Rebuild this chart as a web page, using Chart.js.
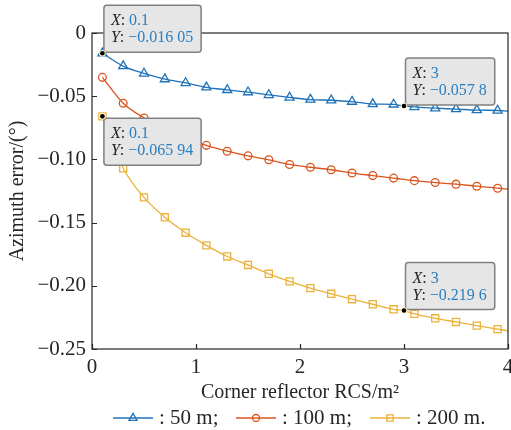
<!DOCTYPE html>
<html>
<head>
<meta charset="utf-8">
<script src="https://cdn.jsdelivr.net/npm/chart.js@4.4.1/dist/chart.umd.min.js"></script>
<style>
  html, body { margin: 0; padding: 0; background: #fff; }
</style>
</head>
<body>
<canvas id="rcsChart" width="511" height="430"></canvas>
<script>
// data
const rcs = [0.1, 0.3, 0.5, 0.7, 0.9, 1.1, 1.3, 1.5, 1.7, 1.9, 2.1, 2.3, 2.5, 2.7, 2.9, 3.0, 3.1, 3.3, 3.5, 3.7, 3.9, 4.0];
const err50 = [-0.01605, -0.0262, -0.0320, -0.0365, -0.0395, -0.0430, -0.0450, -0.0468, -0.0490, -0.0510, -0.0527,
               -0.0532, -0.0543, -0.0562, -0.0565, -0.0578, -0.0585, -0.0595, -0.0602, -0.0610, -0.0613, -0.0618];
const err100 = [-0.0351, -0.0556, -0.0672, -0.0760, -0.0830, -0.0889, -0.0935, -0.0972, -0.1003, -0.1040, -0.1062,
                -0.1082, -0.1108, -0.1128, -0.1148, -0.1158, -0.1168, -0.1183, -0.1196, -0.1212, -0.1228, -0.1235];
const err200 = [-0.06594, -0.1070, -0.1300, -0.1458, -0.1580, -0.1680, -0.1768, -0.1835, -0.1905, -0.1965, -0.2018,
                -0.2063, -0.2106, -0.2146, -0.2186, -0.2196, -0.2222, -0.2257, -0.2286, -0.2315, -0.2343, -0.2356];
const seriesNames = [': 50 m;', ': 100 m;', ': 200 m.'];

const xTickValues = [0, 1, 2, 3, 4];
const xTickLabels = ['0', '1', '2', '3', '4'];
const yTickValues = [0, -0.05, -0.10, -0.15, -0.20, -0.25];
const yTickLabels = ['0', '\u22120.05', '\u22120.10', '\u22120.15', '\u22120.20', '\u22120.25'];

// data tips
const tipX = [0.1, 3, 0.1, 3];
const tipY = [-0.01605, -0.0578, -0.06594, -0.2196];
const tipXText = ['0.1', '3', '0.1', '3'];
const tipYText = ['\u22120.016 05', '\u22120.057 8', '\u22120.065 94', '\u22120.219 6'];
const tipBelow = [false, false, true, false];

const colors = ['#1f72b8', '#d9541e', '#ebb13a'];
const markers = ['triangle', 'circle', 'rect'];
const markerRadius = [5.2, 3.9, 5];
const serif = "'Liberation Serif', 'Times New Roman', serif";

function makeSet(i, values) {
    return {
        label: seriesNames[i],
        data: rcs.map((x, k) => ({ x: x, y: values[k] })),
        borderColor: colors[i],
        backgroundColor: 'rgba(0,0,0,0)',
        borderWidth: 1.3,
        pointStyle: markers[i],
        pointRadius: rcs.map(x => (x === 3.0 || x === 4.0) ? 0 : markerRadius[i]),
        pointBorderColor: colors[i],
        pointBackgroundColor: 'rgba(255,255,255,0)',
        pointBorderWidth: 1.3,
        cubicInterpolationMode: 'monotone'
    };
}

// box, inward ticks, data tips and legend
const decorations = {
    id: 'decorations',
    afterDatasetsDraw(chart) {
        const c = chart.ctx;
        const a = chart.chartArea;
        const xs = chart.scales.x, ys = chart.scales.y;
        c.save();
        c.strokeStyle = '#262626';
        c.lineWidth = 1.2;
        c.strokeRect(a.left, a.top, a.right - a.left, a.bottom - a.top);
        c.beginPath();
        yTickValues.forEach(v => {
            const py = Math.round(ys.getPixelForValue(v)) + 0.5;
            c.moveTo(a.left, py); c.lineTo(a.left + 5, py);
        });
        xTickValues.forEach(v => {
            const px = Math.round(xs.getPixelForValue(v)) + 0.5;
            c.moveTo(px, a.bottom); c.lineTo(px, a.bottom - 5);
        });
        c.stroke();

        // data tips
        tipX.forEach((tx, i) => {
            const px = xs.getPixelForValue(tx);
            const py = ys.getPixelForValue(tipY[i]);
            c.font = 'italic 16px ' + serif;
            const lw = c.measureText('X').width;
            c.font = '16px ' + serif;
            const w1 = lw + c.measureText(': ' + tipXText[i]).width;
            const w2 = lw + c.measureText(': ' + tipYText[i]).width;
            const bw = Math.max(w1, w2) + 14;
            const bh = 47;
            const bx = px + 1.5;
            const by = tipBelow[i] ? py + 2 : py - bh - 1;
            c.beginPath();
            c.roundRect(bx, by, bw, bh, 3);
            c.fillStyle = '#e6e6e6';
            c.fill();
            c.strokeStyle = '#808080';
            c.lineWidth = 1.5;
            c.stroke();
            const lines = [['X', tipXText[i]], ['Y', tipYText[i]]];
            lines.forEach((ln, j) => {
                const ty = by + 20 + j * 17;
                let tx0 = bx + 7;
                c.textBaseline = 'alphabetic';
                c.textAlign = 'left';
                c.font = 'italic 16px ' + serif;
                c.fillStyle = '#262626';
                c.fillText(ln[0], tx0, ty);
                tx0 += c.measureText(ln[0]).width;
                c.font = '16px ' + serif;
                c.fillText(': ', tx0, ty);
                tx0 += c.measureText(': ').width;
                c.fillStyle = '#2a7fc2';
                c.fillText(ln[1], tx0, ty);
            });
            // marker dot
            c.beginPath();
            c.arc(px, py, 3.3, 0, Math.PI * 2);
            c.fillStyle = '#fff6c8';
            c.fill();
            c.beginPath();
            c.arc(px, py, 2.3, 0, Math.PI * 2);
            c.fillStyle = '#000';
            c.fill();
        });

        // legend
        const ly = 418;
        const starts = [113, 236, 370];
        chart.data.datasets.forEach((ds, i) => {
            const x0 = starts[i];
            c.strokeStyle = colors[i];
            c.fillStyle = 'rgba(255,255,255,0)';
            c.lineWidth = 1.3;
            c.beginPath();
            c.moveTo(x0, ly); c.lineTo(x0 + 40, ly);
            c.stroke();
            Chart.helpers.drawPoint(c, {
                pointStyle: markers[i], radius: markerRadius[i] * 0.9, borderWidth: 1.3
            }, x0 + 20, ly);
            c.font = '21px ' + serif;
            c.fillStyle = '#262626';
            c.textAlign = 'left';
            c.textBaseline = 'middle';
            c.fillText(ds.label, x0 + 46, ly);
        });
        c.restore();
    }
};

const ctx = document.getElementById('rcsChart').getContext('2d');

const config = {
    type: 'line',
    data: {
        datasets: [makeSet(0, err50), makeSet(1, err100), makeSet(2, err200)]
    },
    options: {
        responsive: false,
        animation: false,
        layout: { autoPadding: false, padding: { top: 33, right: 3, left: 0, bottom: 0 } },
        plugins: {
            legend: { display: false },
            tooltip: { enabled: false }
        },
        scales: {
            x: {
                type: 'linear',
                min: 0,
                max: 4,
                afterFit: s => { s.height = 81; s.paddingLeft = 0; s.paddingRight = 0; },
                afterBuildTicks: s => { s.ticks = xTickValues.map(v => ({ value: v })); },
                grid: { drawOnChartArea: false, drawTicks: false },
                border: { display: false },
                ticks: {
                    padding: 6,
                    color: '#262626',
                    font: { family: serif, size: 21 },
                    callback: v => xTickLabels[xTickValues.indexOf(v)]
                },
                title: {
                    display: true,
                    text: 'Corner reflector RCS/m\u00b2',
                    color: '#262626',
                    font: { family: serif, size: 20, lineHeight: 1 },
                    padding: { top: 0, bottom: 27 }
                }
            },
            y: {
                type: 'linear',
                min: -0.25,
                max: 0,
                afterFit: s => { s.width = 92; s.paddingTop = 0; s.paddingBottom = 0; },
                afterBuildTicks: s => { s.ticks = yTickValues.map(v => ({ value: v })); },
                grid: { drawOnChartArea: false, drawTicks: false },
                border: { display: false },
                ticks: {
                    padding: 6,
                    color: '#262626',
                    font: { family: serif, size: 21 },
                    callback: v => yTickLabels[yTickValues.findIndex(t => Math.abs(t - v) < 1e-9)]
                },
                title: {
                    display: true,
                    text: 'Azimuth error/(\u00b0)',
                    color: '#262626',
                    font: { family: serif, size: 20, lineHeight: 1 },
                    padding: { top: 8, bottom: 0 }
                }
            }
        }
    },
    plugins: [decorations]
};

const rcsChart = new Chart(ctx, config);
</script>
</body>
</html>
